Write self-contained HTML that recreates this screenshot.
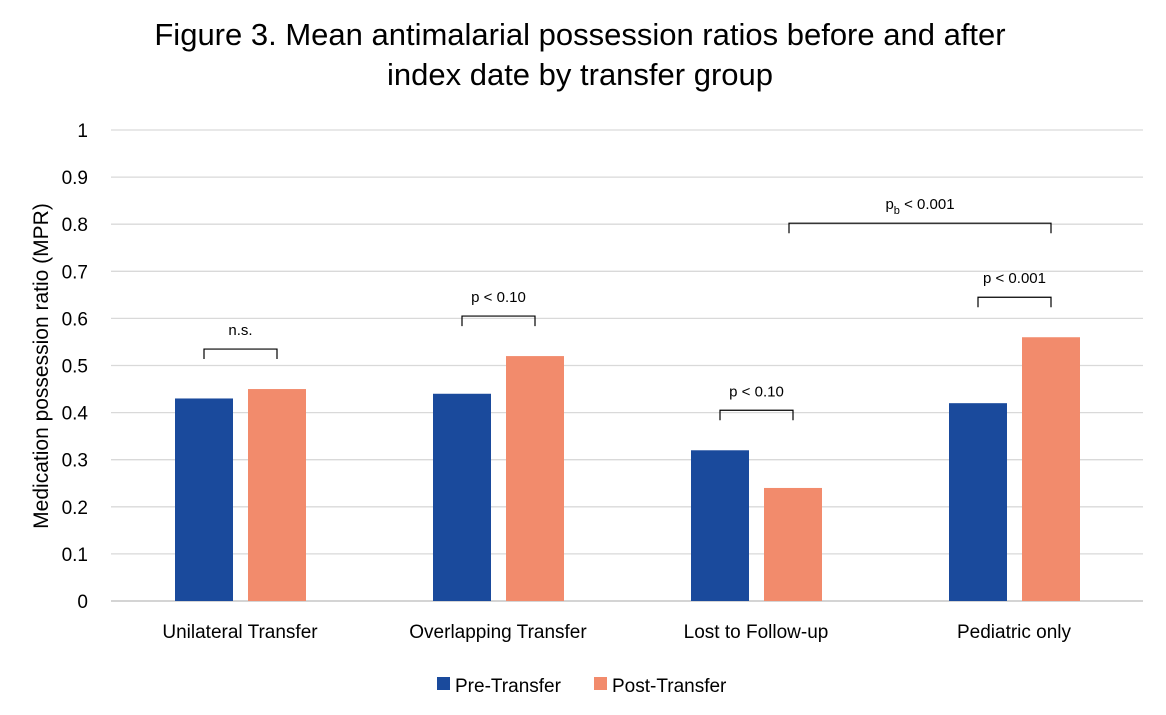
<!DOCTYPE html>
<html><head><meta charset="utf-8"><style>
body{margin:0;background:#fff;font-family:"Liberation Sans",sans-serif}
</style></head><body>
<svg width="1166" height="710" font-family="Liberation Sans, sans-serif">
<text x="580" y="45" text-anchor="middle" font-size="31" fill="#000">Figure 3. Mean antimalarial possession ratios before and after</text>
<text x="580" y="85" text-anchor="middle" font-size="31" fill="#000">index date by transfer group</text>
<text transform="translate(48,366) rotate(-90)" text-anchor="middle" font-size="21">Medication possession ratio (MPR)</text>
<g id="grid"></g><g id="bars"></g><g id="ann"></g>
<g>
<rect x="437" y="677" width="13" height="13" fill="#1a4a9c"/>
<text x="455" y="692" font-size="19">Pre-Transfer</text>
<rect x="594" y="677" width="13" height="13" fill="#f28b6c"/>
<text x="612" y="692" font-size="19">Post-Transfer</text>
</g>
</svg>
<script>
const categories=["Unilateral Transfer","Overlapping Transfer","Lost to Follow-up","Pediatric only"];
const preValues=[0.43,0.44,0.32,0.42];
const postValues=[0.45,0.52,0.24,0.56];
const yTicks=[0,0.1,0.2,0.3,0.4,0.5,0.6,0.7,0.8,0.9,1];
const yTickLabels=["0","0.1","0.2","0.3","0.4","0.5","0.6","0.7","0.8","0.9","1"];
const pairLabels=["n.s.","p < 0.10","p < 0.10","p < 0.001"];
const NS="http://www.w3.org/2000/svg";
const x0=111,x1=1143,yBase=601,yTop=130;
const y=v=>yBase-(yBase-yTop)*v;
const bw=(x1-x0)/categories.length;
const cx=i=>x0+bw*(i+0.5);
function mk(t,a,p){const e=document.createElementNS(NS,t);for(const k in a)e.setAttribute(k,a[k]);p.appendChild(e);return e;}
const grid=document.getElementById('grid'),bars=document.getElementById('bars'),ann=document.getElementById('ann');
yTicks.forEach((v,i)=>{
 const l=mk('line',{x1:x0,x2:x1,y1:y(v),y2:y(v),stroke:v===0?'#bbb':'#d9d9d9','stroke-width':1.3},grid);
 
 
 const t=mk('text',{x:88,y:y(v)+7,'text-anchor':'end','font-size':19},grid);t.textContent=yTickLabels[i];
 
 
});
function bracket(xa,xb,yy,label,sub){
 const p=mk('path',{d:`M${xa} ${yy+10}V${yy}H${xb}V${yy+10}`,fill:'none',stroke:'#000','stroke-width':1.2},ann);
 
 
 const t=mk('text',{x:(xa+xb)/2,y:yy-14,'text-anchor':'middle','font-size':15},ann);
 
 
 if(sub){t.innerHTML='p<tspan font-size="11" dy="5">b</tspan><tspan dy="-5"> &lt; 0.001</tspan>';}else t.textContent=label;
}
categories.forEach((c,i)=>{
 const c0=cx(i);
 const pre=mk('rect',{x:c0-65,y:y(preValues[i]),width:58,height:yBase-y(preValues[i]),fill:'#1a4a9c'},bars);
 
 
 const post=mk('rect',{x:c0+8,y:y(postValues[i]),width:58,height:yBase-y(postValues[i]),fill:'#f28b6c'},bars);
 
 
 const t=mk('text',{x:c0,y:638,'text-anchor':'middle','font-size':19},bars);t.textContent=c;
 
 
 const top=Math.max(preValues[i],postValues[i]);
 bracket(c0-36,c0+37,y(top)-40,pairLabels[i],false);
});
bracket(cx(2)+33,cx(3)+37,y(0.8)-1,'',true);
</script>
</body></html>
